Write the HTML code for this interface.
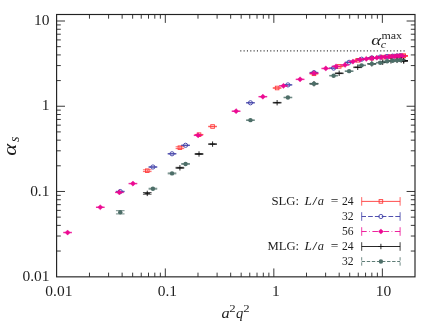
<!DOCTYPE html>
<html><head><meta charset="utf-8"><title>alpha_s</title>
<style>
html,body{margin:0;padding:0;background:#fff;}
svg{display:block;will-change:transform;font-family:"Liberation Serif";}
</style></head><body>
<svg width="432" height="323" viewBox="0 0 432 323">
<rect width="432" height="323" fill="#fff"/>
<rect x="56.6" y="14.5" width="358.4" height="262.35" fill="none" stroke="#222" stroke-width="1.15"/>
<line x1="89.47" y1="276.85" x2="89.47" y2="272.65" stroke="#222" stroke-width="0.9"/>
<line x1="89.47" y1="14.50" x2="89.47" y2="18.70" stroke="#222" stroke-width="0.9"/>
<line x1="56.60" y1="251.04" x2="60.80" y2="251.04" stroke="#222" stroke-width="0.9"/>
<line x1="415.00" y1="251.04" x2="410.80" y2="251.04" stroke="#222" stroke-width="0.9"/>
<line x1="108.58" y1="276.85" x2="108.58" y2="272.65" stroke="#222" stroke-width="0.9"/>
<line x1="108.58" y1="14.50" x2="108.58" y2="18.70" stroke="#222" stroke-width="0.9"/>
<line x1="56.60" y1="236.03" x2="60.80" y2="236.03" stroke="#222" stroke-width="0.9"/>
<line x1="415.00" y1="236.03" x2="410.80" y2="236.03" stroke="#222" stroke-width="0.9"/>
<line x1="122.14" y1="276.85" x2="122.14" y2="272.65" stroke="#222" stroke-width="0.9"/>
<line x1="122.14" y1="14.50" x2="122.14" y2="18.70" stroke="#222" stroke-width="0.9"/>
<line x1="56.60" y1="225.39" x2="60.80" y2="225.39" stroke="#222" stroke-width="0.9"/>
<line x1="415.00" y1="225.39" x2="410.80" y2="225.39" stroke="#222" stroke-width="0.9"/>
<line x1="132.65" y1="276.85" x2="132.65" y2="272.65" stroke="#222" stroke-width="0.9"/>
<line x1="132.65" y1="14.50" x2="132.65" y2="18.70" stroke="#222" stroke-width="0.9"/>
<line x1="56.60" y1="217.13" x2="60.80" y2="217.13" stroke="#222" stroke-width="0.9"/>
<line x1="415.00" y1="217.13" x2="410.80" y2="217.13" stroke="#222" stroke-width="0.9"/>
<line x1="141.24" y1="276.85" x2="141.24" y2="272.65" stroke="#222" stroke-width="0.9"/>
<line x1="141.24" y1="14.50" x2="141.24" y2="18.70" stroke="#222" stroke-width="0.9"/>
<line x1="56.60" y1="210.38" x2="60.80" y2="210.38" stroke="#222" stroke-width="0.9"/>
<line x1="415.00" y1="210.38" x2="410.80" y2="210.38" stroke="#222" stroke-width="0.9"/>
<line x1="148.51" y1="276.85" x2="148.51" y2="272.65" stroke="#222" stroke-width="0.9"/>
<line x1="148.51" y1="14.50" x2="148.51" y2="18.70" stroke="#222" stroke-width="0.9"/>
<line x1="56.60" y1="204.67" x2="60.80" y2="204.67" stroke="#222" stroke-width="0.9"/>
<line x1="415.00" y1="204.67" x2="410.80" y2="204.67" stroke="#222" stroke-width="0.9"/>
<line x1="154.80" y1="276.85" x2="154.80" y2="272.65" stroke="#222" stroke-width="0.9"/>
<line x1="154.80" y1="14.50" x2="154.80" y2="18.70" stroke="#222" stroke-width="0.9"/>
<line x1="56.60" y1="199.73" x2="60.80" y2="199.73" stroke="#222" stroke-width="0.9"/>
<line x1="415.00" y1="199.73" x2="410.80" y2="199.73" stroke="#222" stroke-width="0.9"/>
<line x1="160.35" y1="276.85" x2="160.35" y2="272.65" stroke="#222" stroke-width="0.9"/>
<line x1="160.35" y1="14.50" x2="160.35" y2="18.70" stroke="#222" stroke-width="0.9"/>
<line x1="56.60" y1="195.37" x2="60.80" y2="195.37" stroke="#222" stroke-width="0.9"/>
<line x1="415.00" y1="195.37" x2="410.80" y2="195.37" stroke="#222" stroke-width="0.9"/>
<line x1="165.32" y1="276.85" x2="165.32" y2="268.45" stroke="#222" stroke-width="0.9"/>
<line x1="165.32" y1="14.50" x2="165.32" y2="22.90" stroke="#222" stroke-width="0.9"/>
<line x1="56.60" y1="191.47" x2="65.00" y2="191.47" stroke="#222" stroke-width="0.9"/>
<line x1="415.00" y1="191.47" x2="406.60" y2="191.47" stroke="#222" stroke-width="0.9"/>
<line x1="197.99" y1="276.85" x2="197.99" y2="272.65" stroke="#222" stroke-width="0.9"/>
<line x1="197.99" y1="14.50" x2="197.99" y2="18.70" stroke="#222" stroke-width="0.9"/>
<line x1="56.60" y1="165.81" x2="60.80" y2="165.81" stroke="#222" stroke-width="0.9"/>
<line x1="415.00" y1="165.81" x2="410.80" y2="165.81" stroke="#222" stroke-width="0.9"/>
<line x1="217.10" y1="276.85" x2="217.10" y2="272.65" stroke="#222" stroke-width="0.9"/>
<line x1="217.10" y1="14.50" x2="217.10" y2="18.70" stroke="#222" stroke-width="0.9"/>
<line x1="56.60" y1="150.80" x2="60.80" y2="150.80" stroke="#222" stroke-width="0.9"/>
<line x1="415.00" y1="150.80" x2="410.80" y2="150.80" stroke="#222" stroke-width="0.9"/>
<line x1="230.66" y1="276.85" x2="230.66" y2="272.65" stroke="#222" stroke-width="0.9"/>
<line x1="230.66" y1="14.50" x2="230.66" y2="18.70" stroke="#222" stroke-width="0.9"/>
<line x1="56.60" y1="140.16" x2="60.80" y2="140.16" stroke="#222" stroke-width="0.9"/>
<line x1="415.00" y1="140.16" x2="410.80" y2="140.16" stroke="#222" stroke-width="0.9"/>
<line x1="241.17" y1="276.85" x2="241.17" y2="272.65" stroke="#222" stroke-width="0.9"/>
<line x1="241.17" y1="14.50" x2="241.17" y2="18.70" stroke="#222" stroke-width="0.9"/>
<line x1="56.60" y1="131.90" x2="60.80" y2="131.90" stroke="#222" stroke-width="0.9"/>
<line x1="415.00" y1="131.90" x2="410.80" y2="131.90" stroke="#222" stroke-width="0.9"/>
<line x1="249.76" y1="276.85" x2="249.76" y2="272.65" stroke="#222" stroke-width="0.9"/>
<line x1="249.76" y1="14.50" x2="249.76" y2="18.70" stroke="#222" stroke-width="0.9"/>
<line x1="56.60" y1="125.15" x2="60.80" y2="125.15" stroke="#222" stroke-width="0.9"/>
<line x1="415.00" y1="125.15" x2="410.80" y2="125.15" stroke="#222" stroke-width="0.9"/>
<line x1="257.03" y1="276.85" x2="257.03" y2="272.65" stroke="#222" stroke-width="0.9"/>
<line x1="257.03" y1="14.50" x2="257.03" y2="18.70" stroke="#222" stroke-width="0.9"/>
<line x1="56.60" y1="119.44" x2="60.80" y2="119.44" stroke="#222" stroke-width="0.9"/>
<line x1="415.00" y1="119.44" x2="410.80" y2="119.44" stroke="#222" stroke-width="0.9"/>
<line x1="263.32" y1="276.85" x2="263.32" y2="272.65" stroke="#222" stroke-width="0.9"/>
<line x1="263.32" y1="14.50" x2="263.32" y2="18.70" stroke="#222" stroke-width="0.9"/>
<line x1="56.60" y1="114.50" x2="60.80" y2="114.50" stroke="#222" stroke-width="0.9"/>
<line x1="415.00" y1="114.50" x2="410.80" y2="114.50" stroke="#222" stroke-width="0.9"/>
<line x1="268.87" y1="276.85" x2="268.87" y2="272.65" stroke="#222" stroke-width="0.9"/>
<line x1="268.87" y1="14.50" x2="268.87" y2="18.70" stroke="#222" stroke-width="0.9"/>
<line x1="56.60" y1="110.14" x2="60.80" y2="110.14" stroke="#222" stroke-width="0.9"/>
<line x1="415.00" y1="110.14" x2="410.80" y2="110.14" stroke="#222" stroke-width="0.9"/>
<line x1="273.84" y1="276.85" x2="273.84" y2="268.45" stroke="#222" stroke-width="0.9"/>
<line x1="273.84" y1="14.50" x2="273.84" y2="22.90" stroke="#222" stroke-width="0.9"/>
<line x1="56.60" y1="106.24" x2="65.00" y2="106.24" stroke="#222" stroke-width="0.9"/>
<line x1="415.00" y1="106.24" x2="406.60" y2="106.24" stroke="#222" stroke-width="0.9"/>
<line x1="306.51" y1="276.85" x2="306.51" y2="272.65" stroke="#222" stroke-width="0.9"/>
<line x1="306.51" y1="14.50" x2="306.51" y2="18.70" stroke="#222" stroke-width="0.9"/>
<line x1="56.60" y1="80.58" x2="60.80" y2="80.58" stroke="#222" stroke-width="0.9"/>
<line x1="415.00" y1="80.58" x2="410.80" y2="80.58" stroke="#222" stroke-width="0.9"/>
<line x1="325.62" y1="276.85" x2="325.62" y2="272.65" stroke="#222" stroke-width="0.9"/>
<line x1="325.62" y1="14.50" x2="325.62" y2="18.70" stroke="#222" stroke-width="0.9"/>
<line x1="56.60" y1="65.57" x2="60.80" y2="65.57" stroke="#222" stroke-width="0.9"/>
<line x1="415.00" y1="65.57" x2="410.80" y2="65.57" stroke="#222" stroke-width="0.9"/>
<line x1="339.18" y1="276.85" x2="339.18" y2="272.65" stroke="#222" stroke-width="0.9"/>
<line x1="339.18" y1="14.50" x2="339.18" y2="18.70" stroke="#222" stroke-width="0.9"/>
<line x1="56.60" y1="54.93" x2="60.80" y2="54.93" stroke="#222" stroke-width="0.9"/>
<line x1="415.00" y1="54.93" x2="410.80" y2="54.93" stroke="#222" stroke-width="0.9"/>
<line x1="349.69" y1="276.85" x2="349.69" y2="272.65" stroke="#222" stroke-width="0.9"/>
<line x1="349.69" y1="14.50" x2="349.69" y2="18.70" stroke="#222" stroke-width="0.9"/>
<line x1="56.60" y1="46.67" x2="60.80" y2="46.67" stroke="#222" stroke-width="0.9"/>
<line x1="415.00" y1="46.67" x2="410.80" y2="46.67" stroke="#222" stroke-width="0.9"/>
<line x1="358.28" y1="276.85" x2="358.28" y2="272.65" stroke="#222" stroke-width="0.9"/>
<line x1="358.28" y1="14.50" x2="358.28" y2="18.70" stroke="#222" stroke-width="0.9"/>
<line x1="56.60" y1="39.92" x2="60.80" y2="39.92" stroke="#222" stroke-width="0.9"/>
<line x1="415.00" y1="39.92" x2="410.80" y2="39.92" stroke="#222" stroke-width="0.9"/>
<line x1="365.55" y1="276.85" x2="365.55" y2="272.65" stroke="#222" stroke-width="0.9"/>
<line x1="365.55" y1="14.50" x2="365.55" y2="18.70" stroke="#222" stroke-width="0.9"/>
<line x1="56.60" y1="34.21" x2="60.80" y2="34.21" stroke="#222" stroke-width="0.9"/>
<line x1="415.00" y1="34.21" x2="410.80" y2="34.21" stroke="#222" stroke-width="0.9"/>
<line x1="371.84" y1="276.85" x2="371.84" y2="272.65" stroke="#222" stroke-width="0.9"/>
<line x1="371.84" y1="14.50" x2="371.84" y2="18.70" stroke="#222" stroke-width="0.9"/>
<line x1="56.60" y1="29.27" x2="60.80" y2="29.27" stroke="#222" stroke-width="0.9"/>
<line x1="415.00" y1="29.27" x2="410.80" y2="29.27" stroke="#222" stroke-width="0.9"/>
<line x1="377.39" y1="276.85" x2="377.39" y2="272.65" stroke="#222" stroke-width="0.9"/>
<line x1="377.39" y1="14.50" x2="377.39" y2="18.70" stroke="#222" stroke-width="0.9"/>
<line x1="56.60" y1="24.91" x2="60.80" y2="24.91" stroke="#222" stroke-width="0.9"/>
<line x1="415.00" y1="24.91" x2="410.80" y2="24.91" stroke="#222" stroke-width="0.9"/>
<line x1="382.36" y1="276.85" x2="382.36" y2="268.45" stroke="#222" stroke-width="0.9"/>
<line x1="382.36" y1="14.50" x2="382.36" y2="22.90" stroke="#222" stroke-width="0.9"/>
<line x1="56.60" y1="21.01" x2="65.00" y2="21.01" stroke="#222" stroke-width="0.9"/>
<line x1="415.00" y1="21.01" x2="406.60" y2="21.01" stroke="#222" stroke-width="0.9"/>
<line x1="240.25" y1="50.9" x2="404.7" y2="50.9" stroke="#3a3a3a" stroke-width="1.3" stroke-dasharray="1.1 2.232"/>
<line x1="147.25" y1="169.80" x2="147.25" y2="171.60" stroke="#ff3b3b" stroke-width="0.9"/>
<line x1="142.95" y1="169.80" x2="151.55" y2="169.80" stroke="#ff3b3b" stroke-width="0.8"/>
<line x1="142.95" y1="171.60" x2="151.55" y2="171.60" stroke="#ff3b3b" stroke-width="0.8"/>
<rect x="145.45" y="168.90" width="3.6" height="3.6" fill="none" stroke="#ff3b3b" stroke-width="0.9"/>
<line x1="179.91" y1="146.80" x2="179.91" y2="148.60" stroke="#ff3b3b" stroke-width="0.9"/>
<line x1="175.61" y1="146.80" x2="184.21" y2="146.80" stroke="#ff3b3b" stroke-width="0.8"/>
<line x1="175.61" y1="148.60" x2="184.21" y2="148.60" stroke="#ff3b3b" stroke-width="0.8"/>
<rect x="178.11" y="145.90" width="3.6" height="3.6" fill="none" stroke="#ff3b3b" stroke-width="0.9"/>
<line x1="199.02" y1="134.43" x2="199.02" y2="134.93" stroke="#ff3b3b" stroke-width="0.9"/>
<line x1="194.72" y1="134.43" x2="203.32" y2="134.43" stroke="#ff3b3b" stroke-width="0.8"/>
<line x1="194.72" y1="134.93" x2="203.32" y2="134.93" stroke="#ff3b3b" stroke-width="0.8"/>
<rect x="197.22" y="132.88" width="3.6" height="3.6" fill="none" stroke="#ff3b3b" stroke-width="0.9"/>
<line x1="212.58" y1="126.25" x2="212.58" y2="126.75" stroke="#ff3b3b" stroke-width="0.9"/>
<line x1="208.28" y1="126.25" x2="216.88" y2="126.25" stroke="#ff3b3b" stroke-width="0.8"/>
<line x1="208.28" y1="126.75" x2="216.88" y2="126.75" stroke="#ff3b3b" stroke-width="0.8"/>
<rect x="210.78" y="124.70" width="3.6" height="3.6" fill="none" stroke="#ff3b3b" stroke-width="0.9"/>
<line x1="277.11" y1="87.75" x2="277.11" y2="88.25" stroke="#ff3b3b" stroke-width="0.9"/>
<line x1="272.81" y1="87.75" x2="281.41" y2="87.75" stroke="#ff3b3b" stroke-width="0.8"/>
<line x1="272.81" y1="88.25" x2="281.41" y2="88.25" stroke="#ff3b3b" stroke-width="0.8"/>
<rect x="275.31" y="86.20" width="3.6" height="3.6" fill="none" stroke="#ff3b3b" stroke-width="0.9"/>
<line x1="313.97" y1="73.55" x2="313.97" y2="74.05" stroke="#ff3b3b" stroke-width="0.9"/>
<line x1="309.67" y1="73.55" x2="318.27" y2="73.55" stroke="#ff3b3b" stroke-width="0.8"/>
<line x1="309.67" y1="74.05" x2="318.27" y2="74.05" stroke="#ff3b3b" stroke-width="0.8"/>
<rect x="312.17" y="72.00" width="3.6" height="3.6" fill="none" stroke="#ff3b3b" stroke-width="0.9"/>
<line x1="339.18" y1="66.15" x2="339.18" y2="66.65" stroke="#ff3b3b" stroke-width="0.9"/>
<line x1="334.88" y1="66.15" x2="343.48" y2="66.15" stroke="#ff3b3b" stroke-width="0.8"/>
<line x1="334.88" y1="66.65" x2="343.48" y2="66.65" stroke="#ff3b3b" stroke-width="0.8"/>
<rect x="337.38" y="64.60" width="3.6" height="3.6" fill="none" stroke="#ff3b3b" stroke-width="0.9"/>
<line x1="357.73" y1="60.05" x2="357.73" y2="60.55" stroke="#ff3b3b" stroke-width="0.9"/>
<line x1="353.43" y1="60.05" x2="362.03" y2="60.05" stroke="#ff3b3b" stroke-width="0.8"/>
<line x1="353.43" y1="60.55" x2="362.03" y2="60.55" stroke="#ff3b3b" stroke-width="0.8"/>
<rect x="355.93" y="58.50" width="3.6" height="3.6" fill="none" stroke="#ff3b3b" stroke-width="0.9"/>
<line x1="371.84" y1="57.97" x2="371.84" y2="58.47" stroke="#ff3b3b" stroke-width="0.9"/>
<line x1="367.54" y1="57.97" x2="376.14" y2="57.97" stroke="#ff3b3b" stroke-width="0.8"/>
<line x1="367.54" y1="58.47" x2="376.14" y2="58.47" stroke="#ff3b3b" stroke-width="0.8"/>
<rect x="370.04" y="56.42" width="3.6" height="3.6" fill="none" stroke="#ff3b3b" stroke-width="0.9"/>
<line x1="382.69" y1="56.88" x2="382.69" y2="57.38" stroke="#ff3b3b" stroke-width="0.9"/>
<line x1="378.39" y1="56.88" x2="386.99" y2="56.88" stroke="#ff3b3b" stroke-width="0.8"/>
<line x1="378.39" y1="57.38" x2="386.99" y2="57.38" stroke="#ff3b3b" stroke-width="0.8"/>
<rect x="380.89" y="55.33" width="3.6" height="3.6" fill="none" stroke="#ff3b3b" stroke-width="0.9"/>
<line x1="390.95" y1="56.31" x2="390.95" y2="56.81" stroke="#ff3b3b" stroke-width="0.9"/>
<line x1="386.65" y1="56.31" x2="395.25" y2="56.31" stroke="#ff3b3b" stroke-width="0.8"/>
<line x1="386.65" y1="56.81" x2="395.25" y2="56.81" stroke="#ff3b3b" stroke-width="0.8"/>
<rect x="389.15" y="54.76" width="3.6" height="3.6" fill="none" stroke="#ff3b3b" stroke-width="0.9"/>
<line x1="397.05" y1="55.95" x2="397.05" y2="56.45" stroke="#ff3b3b" stroke-width="0.9"/>
<line x1="392.75" y1="55.95" x2="401.35" y2="55.95" stroke="#ff3b3b" stroke-width="0.8"/>
<line x1="392.75" y1="56.45" x2="401.35" y2="56.45" stroke="#ff3b3b" stroke-width="0.8"/>
<rect x="395.25" y="54.40" width="3.6" height="3.6" fill="none" stroke="#ff3b3b" stroke-width="0.9"/>
<line x1="401.24" y1="55.74" x2="401.24" y2="56.24" stroke="#ff3b3b" stroke-width="0.9"/>
<line x1="396.94" y1="55.74" x2="405.54" y2="55.74" stroke="#ff3b3b" stroke-width="0.8"/>
<line x1="396.94" y1="56.24" x2="405.54" y2="56.24" stroke="#ff3b3b" stroke-width="0.8"/>
<rect x="399.44" y="54.19" width="3.6" height="3.6" fill="none" stroke="#ff3b3b" stroke-width="0.9"/>
<line x1="403.70" y1="55.61" x2="403.70" y2="56.11" stroke="#ff3b3b" stroke-width="0.9"/>
<line x1="399.40" y1="55.61" x2="408.00" y2="55.61" stroke="#ff3b3b" stroke-width="0.8"/>
<line x1="399.40" y1="56.11" x2="408.00" y2="56.11" stroke="#ff3b3b" stroke-width="0.8"/>
<rect x="401.90" y="54.06" width="3.6" height="3.6" fill="none" stroke="#ff3b3b" stroke-width="0.9"/>
<line x1="403.70" y1="55.61" x2="403.70" y2="56.11" stroke="#ff3b3b" stroke-width="0.9"/>
<line x1="399.40" y1="55.61" x2="408.00" y2="55.61" stroke="#ff3b3b" stroke-width="0.8"/>
<line x1="399.40" y1="56.11" x2="408.00" y2="56.11" stroke="#ff3b3b" stroke-width="0.8"/>
<rect x="401.90" y="54.06" width="3.6" height="3.6" fill="none" stroke="#ff3b3b" stroke-width="0.9"/>
<line x1="120.25" y1="191.27" x2="120.25" y2="191.77" stroke="#3d3da6" stroke-width="0.9"/>
<line x1="115.95" y1="191.27" x2="124.55" y2="191.27" stroke="#3d3da6" stroke-width="0.8"/>
<line x1="115.95" y1="191.77" x2="124.55" y2="191.77" stroke="#3d3da6" stroke-width="0.8"/>
<circle cx="120.25" cy="191.52" r="2.1" fill="none" stroke="#3d3da6" stroke-width="0.9"/>
<line x1="152.92" y1="166.75" x2="152.92" y2="167.25" stroke="#3d3da6" stroke-width="0.9"/>
<line x1="148.62" y1="166.75" x2="157.22" y2="166.75" stroke="#3d3da6" stroke-width="0.8"/>
<line x1="148.62" y1="167.25" x2="157.22" y2="167.25" stroke="#3d3da6" stroke-width="0.8"/>
<circle cx="152.92" cy="167.00" r="2.1" fill="none" stroke="#3d3da6" stroke-width="0.9"/>
<line x1="172.02" y1="153.55" x2="172.02" y2="154.05" stroke="#3d3da6" stroke-width="0.9"/>
<line x1="167.72" y1="153.55" x2="176.32" y2="153.55" stroke="#3d3da6" stroke-width="0.8"/>
<line x1="167.72" y1="154.05" x2="176.32" y2="154.05" stroke="#3d3da6" stroke-width="0.8"/>
<circle cx="172.02" cy="153.80" r="2.1" fill="none" stroke="#3d3da6" stroke-width="0.9"/>
<line x1="185.58" y1="145.05" x2="185.58" y2="145.55" stroke="#3d3da6" stroke-width="0.9"/>
<line x1="181.28" y1="145.05" x2="189.88" y2="145.05" stroke="#3d3da6" stroke-width="0.8"/>
<line x1="181.28" y1="145.55" x2="189.88" y2="145.55" stroke="#3d3da6" stroke-width="0.8"/>
<circle cx="185.58" cy="145.30" r="2.1" fill="none" stroke="#3d3da6" stroke-width="0.9"/>
<line x1="250.46" y1="102.55" x2="250.46" y2="103.05" stroke="#3d3da6" stroke-width="0.9"/>
<line x1="246.16" y1="102.55" x2="254.76" y2="102.55" stroke="#3d3da6" stroke-width="0.8"/>
<line x1="246.16" y1="103.05" x2="254.76" y2="103.05" stroke="#3d3da6" stroke-width="0.8"/>
<circle cx="250.46" cy="102.80" r="2.1" fill="none" stroke="#3d3da6" stroke-width="0.9"/>
<line x1="287.92" y1="84.65" x2="287.92" y2="85.15" stroke="#3d3da6" stroke-width="0.9"/>
<line x1="283.62" y1="84.65" x2="292.22" y2="84.65" stroke="#3d3da6" stroke-width="0.8"/>
<line x1="283.62" y1="85.15" x2="292.22" y2="85.15" stroke="#3d3da6" stroke-width="0.8"/>
<circle cx="287.92" cy="84.90" r="2.1" fill="none" stroke="#3d3da6" stroke-width="0.9"/>
<line x1="313.97" y1="72.35" x2="313.97" y2="72.85" stroke="#3d3da6" stroke-width="0.9"/>
<line x1="309.67" y1="72.35" x2="318.27" y2="72.35" stroke="#3d3da6" stroke-width="0.8"/>
<line x1="309.67" y1="72.85" x2="318.27" y2="72.85" stroke="#3d3da6" stroke-width="0.8"/>
<circle cx="313.97" cy="72.60" r="2.1" fill="none" stroke="#3d3da6" stroke-width="0.9"/>
<line x1="333.62" y1="67.85" x2="333.62" y2="68.35" stroke="#3d3da6" stroke-width="0.9"/>
<line x1="329.32" y1="67.85" x2="337.92" y2="67.85" stroke="#3d3da6" stroke-width="0.8"/>
<line x1="329.32" y1="68.35" x2="337.92" y2="68.35" stroke="#3d3da6" stroke-width="0.8"/>
<circle cx="333.62" cy="68.10" r="2.1" fill="none" stroke="#3d3da6" stroke-width="0.9"/>
<line x1="349.11" y1="62.05" x2="349.11" y2="62.55" stroke="#3d3da6" stroke-width="0.9"/>
<line x1="344.81" y1="62.05" x2="353.41" y2="62.05" stroke="#3d3da6" stroke-width="0.8"/>
<line x1="344.81" y1="62.55" x2="353.41" y2="62.55" stroke="#3d3da6" stroke-width="0.8"/>
<circle cx="349.11" cy="62.30" r="2.1" fill="none" stroke="#3d3da6" stroke-width="0.9"/>
<line x1="361.62" y1="58.95" x2="361.62" y2="59.45" stroke="#3d3da6" stroke-width="0.9"/>
<line x1="357.32" y1="58.95" x2="365.92" y2="58.95" stroke="#3d3da6" stroke-width="0.8"/>
<line x1="357.32" y1="59.45" x2="365.92" y2="59.45" stroke="#3d3da6" stroke-width="0.8"/>
<circle cx="361.62" cy="59.20" r="2.1" fill="none" stroke="#3d3da6" stroke-width="0.9"/>
<line x1="371.84" y1="57.67" x2="371.84" y2="58.17" stroke="#3d3da6" stroke-width="0.9"/>
<line x1="367.54" y1="57.67" x2="376.14" y2="57.67" stroke="#3d3da6" stroke-width="0.8"/>
<line x1="367.54" y1="58.17" x2="376.14" y2="58.17" stroke="#3d3da6" stroke-width="0.8"/>
<circle cx="371.84" cy="57.92" r="2.1" fill="none" stroke="#3d3da6" stroke-width="0.9"/>
<line x1="380.24" y1="56.83" x2="380.24" y2="57.33" stroke="#3d3da6" stroke-width="0.9"/>
<line x1="375.94" y1="56.83" x2="384.54" y2="56.83" stroke="#3d3da6" stroke-width="0.8"/>
<line x1="375.94" y1="57.33" x2="384.54" y2="57.33" stroke="#3d3da6" stroke-width="0.8"/>
<circle cx="380.24" cy="57.08" r="2.1" fill="none" stroke="#3d3da6" stroke-width="0.9"/>
<line x1="387.11" y1="56.25" x2="387.11" y2="56.75" stroke="#3d3da6" stroke-width="0.9"/>
<line x1="382.81" y1="56.25" x2="391.41" y2="56.25" stroke="#3d3da6" stroke-width="0.8"/>
<line x1="382.81" y1="56.75" x2="391.41" y2="56.75" stroke="#3d3da6" stroke-width="0.8"/>
<circle cx="387.11" cy="56.50" r="2.1" fill="none" stroke="#3d3da6" stroke-width="0.9"/>
<line x1="392.67" y1="55.90" x2="392.67" y2="56.40" stroke="#3d3da6" stroke-width="0.9"/>
<line x1="388.37" y1="55.90" x2="396.97" y2="55.90" stroke="#3d3da6" stroke-width="0.8"/>
<line x1="388.37" y1="56.40" x2="396.97" y2="56.40" stroke="#3d3da6" stroke-width="0.8"/>
<circle cx="392.67" cy="56.15" r="2.1" fill="none" stroke="#3d3da6" stroke-width="0.9"/>
<line x1="397.05" y1="55.65" x2="397.05" y2="56.15" stroke="#3d3da6" stroke-width="0.9"/>
<line x1="392.75" y1="55.65" x2="401.35" y2="55.65" stroke="#3d3da6" stroke-width="0.8"/>
<line x1="392.75" y1="56.15" x2="401.35" y2="56.15" stroke="#3d3da6" stroke-width="0.8"/>
<circle cx="397.05" cy="55.90" r="2.1" fill="none" stroke="#3d3da6" stroke-width="0.9"/>
<line x1="400.36" y1="55.48" x2="400.36" y2="55.98" stroke="#3d3da6" stroke-width="0.9"/>
<line x1="396.06" y1="55.48" x2="404.66" y2="55.48" stroke="#3d3da6" stroke-width="0.8"/>
<line x1="396.06" y1="55.98" x2="404.66" y2="55.98" stroke="#3d3da6" stroke-width="0.8"/>
<circle cx="400.36" cy="55.73" r="2.1" fill="none" stroke="#3d3da6" stroke-width="0.9"/>
<line x1="67.60" y1="232.29" x2="67.60" y2="232.79" stroke="#ec0a92" stroke-width="0.9"/>
<line x1="63.30" y1="232.29" x2="71.90" y2="232.29" stroke="#ec0a92" stroke-width="0.8"/>
<line x1="63.30" y1="232.79" x2="71.90" y2="232.79" stroke="#ec0a92" stroke-width="0.8"/>
<path d="M67.60 229.94L70.20 232.54L67.60 235.14L65.00 232.54Z" fill="#ec0a92" stroke="#ec0a92" stroke-width="0.4"/>
<line x1="100.27" y1="207.02" x2="100.27" y2="207.52" stroke="#ec0a92" stroke-width="0.9"/>
<line x1="95.97" y1="207.02" x2="104.57" y2="207.02" stroke="#ec0a92" stroke-width="0.8"/>
<line x1="95.97" y1="207.52" x2="104.57" y2="207.52" stroke="#ec0a92" stroke-width="0.8"/>
<path d="M100.27 204.67L102.87 207.27L100.27 209.87L97.67 207.27Z" fill="#ec0a92" stroke="#ec0a92" stroke-width="0.4"/>
<line x1="119.38" y1="192.14" x2="119.38" y2="192.64" stroke="#ec0a92" stroke-width="0.9"/>
<line x1="115.08" y1="192.14" x2="123.68" y2="192.14" stroke="#ec0a92" stroke-width="0.8"/>
<line x1="115.08" y1="192.64" x2="123.68" y2="192.64" stroke="#ec0a92" stroke-width="0.8"/>
<path d="M119.38 189.79L121.98 192.39L119.38 194.99L116.78 192.39Z" fill="#ec0a92" stroke="#ec0a92" stroke-width="0.4"/>
<line x1="132.94" y1="183.33" x2="132.94" y2="183.83" stroke="#ec0a92" stroke-width="0.9"/>
<line x1="128.64" y1="183.33" x2="137.24" y2="183.33" stroke="#ec0a92" stroke-width="0.8"/>
<line x1="128.64" y1="183.83" x2="137.24" y2="183.83" stroke="#ec0a92" stroke-width="0.8"/>
<path d="M132.94 180.98L135.54 183.58L132.94 186.18L130.34 183.58Z" fill="#ec0a92" stroke="#ec0a92" stroke-width="0.4"/>
<line x1="198.12" y1="135.05" x2="198.12" y2="135.55" stroke="#ec0a92" stroke-width="0.9"/>
<line x1="193.82" y1="135.05" x2="202.42" y2="135.05" stroke="#ec0a92" stroke-width="0.8"/>
<line x1="193.82" y1="135.55" x2="202.42" y2="135.55" stroke="#ec0a92" stroke-width="0.8"/>
<path d="M198.12 132.70L200.72 135.30L198.12 137.90L195.52 135.30Z" fill="#ec0a92" stroke="#ec0a92" stroke-width="0.4"/>
<line x1="236.09" y1="110.95" x2="236.09" y2="111.45" stroke="#ec0a92" stroke-width="0.9"/>
<line x1="231.79" y1="110.95" x2="240.39" y2="110.95" stroke="#ec0a92" stroke-width="0.8"/>
<line x1="231.79" y1="111.45" x2="240.39" y2="111.45" stroke="#ec0a92" stroke-width="0.8"/>
<path d="M236.09 108.60L238.69 111.20L236.09 113.80L233.49 111.20Z" fill="#ec0a92" stroke="#ec0a92" stroke-width="0.4"/>
<line x1="262.86" y1="96.45" x2="262.86" y2="96.95" stroke="#ec0a92" stroke-width="0.9"/>
<line x1="258.56" y1="96.45" x2="267.16" y2="96.45" stroke="#ec0a92" stroke-width="0.8"/>
<line x1="258.56" y1="96.95" x2="267.16" y2="96.95" stroke="#ec0a92" stroke-width="0.8"/>
<path d="M262.86 94.10L265.46 96.70L262.86 99.30L260.26 96.70Z" fill="#ec0a92" stroke="#ec0a92" stroke-width="0.4"/>
<line x1="283.45" y1="85.62" x2="283.45" y2="86.12" stroke="#ec0a92" stroke-width="0.9"/>
<line x1="279.15" y1="85.62" x2="287.75" y2="85.62" stroke="#ec0a92" stroke-width="0.8"/>
<line x1="279.15" y1="86.12" x2="287.75" y2="86.12" stroke="#ec0a92" stroke-width="0.8"/>
<path d="M283.45 83.27L286.05 85.87L283.45 88.47L280.85 85.87Z" fill="#ec0a92" stroke="#ec0a92" stroke-width="0.4"/>
<line x1="300.09" y1="79.11" x2="300.09" y2="79.61" stroke="#ec0a92" stroke-width="0.9"/>
<line x1="295.79" y1="79.11" x2="304.39" y2="79.11" stroke="#ec0a92" stroke-width="0.8"/>
<line x1="295.79" y1="79.61" x2="304.39" y2="79.61" stroke="#ec0a92" stroke-width="0.8"/>
<path d="M300.09 76.76L302.69 79.36L300.09 81.96L297.49 79.36Z" fill="#ec0a92" stroke="#ec0a92" stroke-width="0.4"/>
<line x1="313.97" y1="72.98" x2="313.97" y2="73.48" stroke="#ec0a92" stroke-width="0.9"/>
<line x1="309.67" y1="72.98" x2="318.27" y2="72.98" stroke="#ec0a92" stroke-width="0.8"/>
<line x1="309.67" y1="73.48" x2="318.27" y2="73.48" stroke="#ec0a92" stroke-width="0.8"/>
<path d="M313.97 70.63L316.57 73.23L313.97 75.83L311.37 73.23Z" fill="#ec0a92" stroke="#ec0a92" stroke-width="0.4"/>
<line x1="325.81" y1="68.21" x2="325.81" y2="68.71" stroke="#ec0a92" stroke-width="0.9"/>
<line x1="321.51" y1="68.21" x2="330.11" y2="68.21" stroke="#ec0a92" stroke-width="0.8"/>
<line x1="321.51" y1="68.71" x2="330.11" y2="68.71" stroke="#ec0a92" stroke-width="0.8"/>
<path d="M325.81 65.86L328.41 68.46L325.81 71.06L323.21 68.46Z" fill="#ec0a92" stroke="#ec0a92" stroke-width="0.4"/>
<line x1="336.06" y1="66.16" x2="336.06" y2="66.66" stroke="#ec0a92" stroke-width="0.9"/>
<line x1="331.76" y1="66.16" x2="340.36" y2="66.16" stroke="#ec0a92" stroke-width="0.8"/>
<line x1="331.76" y1="66.66" x2="340.36" y2="66.66" stroke="#ec0a92" stroke-width="0.8"/>
<path d="M336.06 63.81L338.66 66.41L336.06 69.01L333.46 66.41Z" fill="#ec0a92" stroke="#ec0a92" stroke-width="0.4"/>
<line x1="345.03" y1="64.69" x2="345.03" y2="65.19" stroke="#ec0a92" stroke-width="0.9"/>
<line x1="340.73" y1="64.69" x2="349.33" y2="64.69" stroke="#ec0a92" stroke-width="0.8"/>
<line x1="340.73" y1="65.19" x2="349.33" y2="65.19" stroke="#ec0a92" stroke-width="0.8"/>
<path d="M345.03 62.34L347.63 64.94L345.03 67.54L342.43 64.94Z" fill="#ec0a92" stroke="#ec0a92" stroke-width="0.4"/>
<line x1="352.95" y1="61.31" x2="352.95" y2="61.81" stroke="#ec0a92" stroke-width="0.9"/>
<line x1="348.65" y1="61.31" x2="357.25" y2="61.31" stroke="#ec0a92" stroke-width="0.8"/>
<line x1="348.65" y1="61.81" x2="357.25" y2="61.81" stroke="#ec0a92" stroke-width="0.8"/>
<path d="M352.95 58.96L355.55 61.56L352.95 64.16L350.35 61.56Z" fill="#ec0a92" stroke="#ec0a92" stroke-width="0.4"/>
<line x1="359.98" y1="59.46" x2="359.98" y2="59.96" stroke="#ec0a92" stroke-width="0.9"/>
<line x1="355.68" y1="59.46" x2="364.28" y2="59.46" stroke="#ec0a92" stroke-width="0.8"/>
<line x1="355.68" y1="59.96" x2="364.28" y2="59.96" stroke="#ec0a92" stroke-width="0.8"/>
<path d="M359.98 57.11L362.58 59.71L359.98 62.31L357.38 59.71Z" fill="#ec0a92" stroke="#ec0a92" stroke-width="0.4"/>
<line x1="366.25" y1="58.67" x2="366.25" y2="59.17" stroke="#ec0a92" stroke-width="0.9"/>
<line x1="361.95" y1="58.67" x2="370.55" y2="58.67" stroke="#ec0a92" stroke-width="0.8"/>
<line x1="361.95" y1="59.17" x2="370.55" y2="59.17" stroke="#ec0a92" stroke-width="0.8"/>
<path d="M366.25 56.32L368.85 58.92L366.25 61.52L363.65 58.92Z" fill="#ec0a92" stroke="#ec0a92" stroke-width="0.4"/>
<line x1="371.84" y1="57.97" x2="371.84" y2="58.47" stroke="#ec0a92" stroke-width="0.9"/>
<line x1="367.54" y1="57.97" x2="376.14" y2="57.97" stroke="#ec0a92" stroke-width="0.8"/>
<line x1="367.54" y1="58.47" x2="376.14" y2="58.47" stroke="#ec0a92" stroke-width="0.8"/>
<path d="M371.84 55.62L374.44 58.22L371.84 60.82L369.24 58.22Z" fill="#ec0a92" stroke="#ec0a92" stroke-width="0.4"/>
<line x1="376.85" y1="57.47" x2="376.85" y2="57.97" stroke="#ec0a92" stroke-width="0.9"/>
<line x1="372.55" y1="57.47" x2="381.15" y2="57.47" stroke="#ec0a92" stroke-width="0.8"/>
<line x1="372.55" y1="57.97" x2="381.15" y2="57.97" stroke="#ec0a92" stroke-width="0.8"/>
<path d="M376.85 55.12L379.45 57.72L376.85 60.32L374.25 57.72Z" fill="#ec0a92" stroke="#ec0a92" stroke-width="0.4"/>
<line x1="381.31" y1="57.02" x2="381.31" y2="57.52" stroke="#ec0a92" stroke-width="0.9"/>
<line x1="377.01" y1="57.02" x2="385.61" y2="57.02" stroke="#ec0a92" stroke-width="0.8"/>
<line x1="377.01" y1="57.52" x2="385.61" y2="57.52" stroke="#ec0a92" stroke-width="0.8"/>
<path d="M381.31 54.67L383.91 57.27L381.31 59.87L378.71 57.27Z" fill="#ec0a92" stroke="#ec0a92" stroke-width="0.4"/>
<line x1="385.29" y1="56.67" x2="385.29" y2="57.17" stroke="#ec0a92" stroke-width="0.9"/>
<line x1="380.99" y1="56.67" x2="389.59" y2="56.67" stroke="#ec0a92" stroke-width="0.8"/>
<line x1="380.99" y1="57.17" x2="389.59" y2="57.17" stroke="#ec0a92" stroke-width="0.8"/>
<path d="M385.29 54.32L387.89 56.92L385.29 59.52L382.69 56.92Z" fill="#ec0a92" stroke="#ec0a92" stroke-width="0.4"/>
<line x1="388.83" y1="56.44" x2="388.83" y2="56.94" stroke="#ec0a92" stroke-width="0.9"/>
<line x1="384.53" y1="56.44" x2="393.13" y2="56.44" stroke="#ec0a92" stroke-width="0.8"/>
<line x1="384.53" y1="56.94" x2="393.13" y2="56.94" stroke="#ec0a92" stroke-width="0.8"/>
<path d="M388.83 54.09L391.43 56.69L388.83 59.29L386.23 56.69Z" fill="#ec0a92" stroke="#ec0a92" stroke-width="0.4"/>
<line x1="391.95" y1="56.24" x2="391.95" y2="56.74" stroke="#ec0a92" stroke-width="0.9"/>
<line x1="387.65" y1="56.24" x2="396.25" y2="56.24" stroke="#ec0a92" stroke-width="0.8"/>
<line x1="387.65" y1="56.74" x2="396.25" y2="56.74" stroke="#ec0a92" stroke-width="0.8"/>
<path d="M391.95 53.89L394.55 56.49L391.95 59.09L389.35 56.49Z" fill="#ec0a92" stroke="#ec0a92" stroke-width="0.4"/>
<line x1="394.68" y1="56.07" x2="394.68" y2="56.57" stroke="#ec0a92" stroke-width="0.9"/>
<line x1="390.38" y1="56.07" x2="398.98" y2="56.07" stroke="#ec0a92" stroke-width="0.8"/>
<line x1="390.38" y1="56.57" x2="398.98" y2="56.57" stroke="#ec0a92" stroke-width="0.8"/>
<path d="M394.68 53.72L397.28 56.32L394.68 58.92L392.08 56.32Z" fill="#ec0a92" stroke="#ec0a92" stroke-width="0.4"/>
<line x1="397.05" y1="55.95" x2="397.05" y2="56.45" stroke="#ec0a92" stroke-width="0.9"/>
<line x1="392.75" y1="55.95" x2="401.35" y2="55.95" stroke="#ec0a92" stroke-width="0.8"/>
<line x1="392.75" y1="56.45" x2="401.35" y2="56.45" stroke="#ec0a92" stroke-width="0.8"/>
<path d="M397.05 53.60L399.65 56.20L397.05 58.80L394.45 56.20Z" fill="#ec0a92" stroke="#ec0a92" stroke-width="0.4"/>
<line x1="399.07" y1="55.85" x2="399.07" y2="56.35" stroke="#ec0a92" stroke-width="0.9"/>
<line x1="394.77" y1="55.85" x2="403.37" y2="55.85" stroke="#ec0a92" stroke-width="0.8"/>
<line x1="394.77" y1="56.35" x2="403.37" y2="56.35" stroke="#ec0a92" stroke-width="0.8"/>
<path d="M399.07 53.50L401.67 56.10L399.07 58.70L396.47 56.10Z" fill="#ec0a92" stroke="#ec0a92" stroke-width="0.4"/>
<line x1="400.75" y1="55.76" x2="400.75" y2="56.26" stroke="#ec0a92" stroke-width="0.9"/>
<line x1="396.45" y1="55.76" x2="405.05" y2="55.76" stroke="#ec0a92" stroke-width="0.8"/>
<line x1="396.45" y1="56.26" x2="405.05" y2="56.26" stroke="#ec0a92" stroke-width="0.8"/>
<path d="M400.75 53.41L403.35 56.01L400.75 58.61L398.15 56.01Z" fill="#ec0a92" stroke="#ec0a92" stroke-width="0.4"/>
<line x1="402.12" y1="55.69" x2="402.12" y2="56.19" stroke="#ec0a92" stroke-width="0.9"/>
<line x1="397.82" y1="55.69" x2="406.42" y2="55.69" stroke="#ec0a92" stroke-width="0.8"/>
<line x1="397.82" y1="56.19" x2="406.42" y2="56.19" stroke="#ec0a92" stroke-width="0.8"/>
<path d="M402.12 53.34L404.72 55.94L402.12 58.54L399.52 55.94Z" fill="#ec0a92" stroke="#ec0a92" stroke-width="0.4"/>
<line x1="147.25" y1="192.60" x2="147.25" y2="194.20" stroke="#111" stroke-width="0.9"/>
<line x1="142.95" y1="192.60" x2="151.55" y2="192.60" stroke="#111" stroke-width="0.8"/>
<line x1="142.95" y1="194.20" x2="151.55" y2="194.20" stroke="#111" stroke-width="0.8"/>
<line x1="144.55" y1="193.40" x2="149.95" y2="193.40" stroke="#111" stroke-width="0.9"/>
<line x1="147.25" y1="190.70" x2="147.25" y2="196.10" stroke="#111" stroke-width="0.9"/>
<line x1="179.91" y1="167.35" x2="179.91" y2="168.25" stroke="#111" stroke-width="0.9"/>
<line x1="175.61" y1="167.35" x2="184.21" y2="167.35" stroke="#111" stroke-width="0.8"/>
<line x1="175.61" y1="168.25" x2="184.21" y2="168.25" stroke="#111" stroke-width="0.8"/>
<line x1="177.21" y1="167.80" x2="182.61" y2="167.80" stroke="#111" stroke-width="0.9"/>
<line x1="179.91" y1="165.10" x2="179.91" y2="170.50" stroke="#111" stroke-width="0.9"/>
<line x1="199.02" y1="153.55" x2="199.02" y2="154.45" stroke="#111" stroke-width="0.9"/>
<line x1="194.72" y1="153.55" x2="203.32" y2="153.55" stroke="#111" stroke-width="0.8"/>
<line x1="194.72" y1="154.45" x2="203.32" y2="154.45" stroke="#111" stroke-width="0.8"/>
<line x1="196.32" y1="154.00" x2="201.72" y2="154.00" stroke="#111" stroke-width="0.9"/>
<line x1="199.02" y1="151.30" x2="199.02" y2="156.70" stroke="#111" stroke-width="0.9"/>
<line x1="212.58" y1="143.80" x2="212.58" y2="144.40" stroke="#111" stroke-width="0.9"/>
<line x1="208.28" y1="143.80" x2="216.88" y2="143.80" stroke="#111" stroke-width="0.8"/>
<line x1="208.28" y1="144.40" x2="216.88" y2="144.40" stroke="#111" stroke-width="0.8"/>
<line x1="209.88" y1="144.10" x2="215.28" y2="144.10" stroke="#111" stroke-width="0.9"/>
<line x1="212.58" y1="141.40" x2="212.58" y2="146.80" stroke="#111" stroke-width="0.9"/>
<line x1="277.11" y1="102.40" x2="277.11" y2="103.00" stroke="#111" stroke-width="0.9"/>
<line x1="272.81" y1="102.40" x2="281.41" y2="102.40" stroke="#111" stroke-width="0.8"/>
<line x1="272.81" y1="103.00" x2="281.41" y2="103.00" stroke="#111" stroke-width="0.8"/>
<line x1="274.41" y1="102.70" x2="279.81" y2="102.70" stroke="#111" stroke-width="0.9"/>
<line x1="277.11" y1="100.00" x2="277.11" y2="105.40" stroke="#111" stroke-width="0.9"/>
<line x1="313.97" y1="83.43" x2="313.97" y2="84.03" stroke="#111" stroke-width="0.9"/>
<line x1="309.67" y1="83.43" x2="318.27" y2="83.43" stroke="#111" stroke-width="0.8"/>
<line x1="309.67" y1="84.03" x2="318.27" y2="84.03" stroke="#111" stroke-width="0.8"/>
<line x1="311.27" y1="83.73" x2="316.67" y2="83.73" stroke="#111" stroke-width="0.9"/>
<line x1="313.97" y1="81.03" x2="313.97" y2="86.43" stroke="#111" stroke-width="0.9"/>
<line x1="339.18" y1="73.00" x2="339.18" y2="73.60" stroke="#111" stroke-width="0.9"/>
<line x1="334.88" y1="73.00" x2="343.48" y2="73.00" stroke="#111" stroke-width="0.8"/>
<line x1="334.88" y1="73.60" x2="343.48" y2="73.60" stroke="#111" stroke-width="0.8"/>
<line x1="336.48" y1="73.30" x2="341.88" y2="73.30" stroke="#111" stroke-width="0.9"/>
<line x1="339.18" y1="70.60" x2="339.18" y2="76.00" stroke="#111" stroke-width="0.9"/>
<line x1="357.73" y1="67.00" x2="357.73" y2="67.60" stroke="#111" stroke-width="0.9"/>
<line x1="353.43" y1="67.00" x2="362.03" y2="67.00" stroke="#111" stroke-width="0.8"/>
<line x1="353.43" y1="67.60" x2="362.03" y2="67.60" stroke="#111" stroke-width="0.8"/>
<line x1="355.03" y1="67.30" x2="360.43" y2="67.30" stroke="#111" stroke-width="0.9"/>
<line x1="357.73" y1="64.60" x2="357.73" y2="70.00" stroke="#111" stroke-width="0.9"/>
<line x1="371.84" y1="63.55" x2="371.84" y2="64.15" stroke="#111" stroke-width="0.9"/>
<line x1="367.54" y1="63.55" x2="376.14" y2="63.55" stroke="#111" stroke-width="0.8"/>
<line x1="367.54" y1="64.15" x2="376.14" y2="64.15" stroke="#111" stroke-width="0.8"/>
<line x1="369.14" y1="63.85" x2="374.54" y2="63.85" stroke="#111" stroke-width="0.9"/>
<line x1="371.84" y1="61.15" x2="371.84" y2="66.55" stroke="#111" stroke-width="0.9"/>
<line x1="382.69" y1="61.94" x2="382.69" y2="62.54" stroke="#111" stroke-width="0.9"/>
<line x1="378.39" y1="61.94" x2="386.99" y2="61.94" stroke="#111" stroke-width="0.8"/>
<line x1="378.39" y1="62.54" x2="386.99" y2="62.54" stroke="#111" stroke-width="0.8"/>
<line x1="379.99" y1="62.24" x2="385.39" y2="62.24" stroke="#111" stroke-width="0.9"/>
<line x1="382.69" y1="59.54" x2="382.69" y2="64.94" stroke="#111" stroke-width="0.9"/>
<line x1="390.95" y1="60.61" x2="390.95" y2="61.21" stroke="#111" stroke-width="0.9"/>
<line x1="386.65" y1="60.61" x2="395.25" y2="60.61" stroke="#111" stroke-width="0.8"/>
<line x1="386.65" y1="61.21" x2="395.25" y2="61.21" stroke="#111" stroke-width="0.8"/>
<line x1="388.25" y1="60.91" x2="393.65" y2="60.91" stroke="#111" stroke-width="0.9"/>
<line x1="390.95" y1="58.21" x2="390.95" y2="63.61" stroke="#111" stroke-width="0.9"/>
<line x1="397.05" y1="60.06" x2="397.05" y2="60.66" stroke="#111" stroke-width="0.9"/>
<line x1="392.75" y1="60.06" x2="401.35" y2="60.06" stroke="#111" stroke-width="0.8"/>
<line x1="392.75" y1="60.66" x2="401.35" y2="60.66" stroke="#111" stroke-width="0.8"/>
<line x1="394.35" y1="60.36" x2="399.75" y2="60.36" stroke="#111" stroke-width="0.9"/>
<line x1="397.05" y1="57.66" x2="397.05" y2="63.06" stroke="#111" stroke-width="0.9"/>
<line x1="401.24" y1="59.76" x2="401.24" y2="60.36" stroke="#111" stroke-width="0.9"/>
<line x1="396.94" y1="59.76" x2="405.54" y2="59.76" stroke="#111" stroke-width="0.8"/>
<line x1="396.94" y1="60.36" x2="405.54" y2="60.36" stroke="#111" stroke-width="0.8"/>
<line x1="398.54" y1="60.06" x2="403.94" y2="60.06" stroke="#111" stroke-width="0.9"/>
<line x1="401.24" y1="57.36" x2="401.24" y2="62.76" stroke="#111" stroke-width="0.9"/>
<line x1="403.70" y1="60.50" x2="403.70" y2="61.10" stroke="#111" stroke-width="0.9"/>
<line x1="399.40" y1="60.50" x2="408.00" y2="60.50" stroke="#111" stroke-width="0.8"/>
<line x1="399.40" y1="61.10" x2="408.00" y2="61.10" stroke="#111" stroke-width="0.8"/>
<line x1="401.00" y1="60.80" x2="406.40" y2="60.80" stroke="#111" stroke-width="0.9"/>
<line x1="403.70" y1="58.10" x2="403.70" y2="63.50" stroke="#111" stroke-width="0.9"/>
<line x1="403.70" y1="60.50" x2="403.70" y2="61.10" stroke="#111" stroke-width="0.9"/>
<line x1="399.40" y1="60.50" x2="408.00" y2="60.50" stroke="#111" stroke-width="0.8"/>
<line x1="399.40" y1="61.10" x2="408.00" y2="61.10" stroke="#111" stroke-width="0.8"/>
<line x1="401.00" y1="60.80" x2="406.40" y2="60.80" stroke="#111" stroke-width="0.9"/>
<line x1="403.70" y1="58.10" x2="403.70" y2="63.50" stroke="#111" stroke-width="0.9"/>
<line x1="120.25" y1="210.70" x2="120.25" y2="213.90" stroke="#4d6e68" stroke-width="0.9"/>
<line x1="115.95" y1="210.70" x2="124.55" y2="210.70" stroke="#4d6e68" stroke-width="0.8"/>
<line x1="115.95" y1="213.90" x2="124.55" y2="213.90" stroke="#4d6e68" stroke-width="0.8"/>
<circle cx="120.25" cy="212.30" r="2.2" fill="#4d6e68"/>
<line x1="152.92" y1="188.26" x2="152.92" y2="189.16" stroke="#4d6e68" stroke-width="0.9"/>
<line x1="148.62" y1="188.26" x2="157.22" y2="188.26" stroke="#4d6e68" stroke-width="0.8"/>
<line x1="148.62" y1="189.16" x2="157.22" y2="189.16" stroke="#4d6e68" stroke-width="0.8"/>
<circle cx="152.92" cy="188.71" r="2.2" fill="#4d6e68"/>
<line x1="172.02" y1="172.96" x2="172.02" y2="173.86" stroke="#4d6e68" stroke-width="0.9"/>
<line x1="167.72" y1="172.96" x2="176.32" y2="172.96" stroke="#4d6e68" stroke-width="0.8"/>
<line x1="167.72" y1="173.86" x2="176.32" y2="173.86" stroke="#4d6e68" stroke-width="0.8"/>
<circle cx="172.02" cy="173.41" r="2.2" fill="#4d6e68"/>
<line x1="185.58" y1="163.49" x2="185.58" y2="164.39" stroke="#4d6e68" stroke-width="0.9"/>
<line x1="181.28" y1="163.49" x2="189.88" y2="163.49" stroke="#4d6e68" stroke-width="0.8"/>
<line x1="181.28" y1="164.39" x2="189.88" y2="164.39" stroke="#4d6e68" stroke-width="0.8"/>
<circle cx="185.58" cy="163.94" r="2.2" fill="#4d6e68"/>
<line x1="250.46" y1="119.86" x2="250.46" y2="120.46" stroke="#4d6e68" stroke-width="0.9"/>
<line x1="246.16" y1="119.86" x2="254.76" y2="119.86" stroke="#4d6e68" stroke-width="0.8"/>
<line x1="246.16" y1="120.46" x2="254.76" y2="120.46" stroke="#4d6e68" stroke-width="0.8"/>
<circle cx="250.46" cy="120.16" r="2.2" fill="#4d6e68"/>
<line x1="287.92" y1="97.19" x2="287.92" y2="97.79" stroke="#4d6e68" stroke-width="0.9"/>
<line x1="283.62" y1="97.19" x2="292.22" y2="97.19" stroke="#4d6e68" stroke-width="0.8"/>
<line x1="283.62" y1="97.79" x2="292.22" y2="97.79" stroke="#4d6e68" stroke-width="0.8"/>
<circle cx="287.92" cy="97.49" r="2.2" fill="#4d6e68"/>
<line x1="313.97" y1="83.43" x2="313.97" y2="84.03" stroke="#4d6e68" stroke-width="0.9"/>
<line x1="309.67" y1="83.43" x2="318.27" y2="83.43" stroke="#4d6e68" stroke-width="0.8"/>
<line x1="309.67" y1="84.03" x2="318.27" y2="84.03" stroke="#4d6e68" stroke-width="0.8"/>
<circle cx="313.97" cy="83.73" r="2.2" fill="#4d6e68"/>
<line x1="333.62" y1="75.40" x2="333.62" y2="76.00" stroke="#4d6e68" stroke-width="0.9"/>
<line x1="329.32" y1="75.40" x2="337.92" y2="75.40" stroke="#4d6e68" stroke-width="0.8"/>
<line x1="329.32" y1="76.00" x2="337.92" y2="76.00" stroke="#4d6e68" stroke-width="0.8"/>
<circle cx="333.62" cy="75.70" r="2.2" fill="#4d6e68"/>
<line x1="349.11" y1="70.85" x2="349.11" y2="71.45" stroke="#4d6e68" stroke-width="0.9"/>
<line x1="344.81" y1="70.85" x2="353.41" y2="70.85" stroke="#4d6e68" stroke-width="0.8"/>
<line x1="344.81" y1="71.45" x2="353.41" y2="71.45" stroke="#4d6e68" stroke-width="0.8"/>
<circle cx="349.11" cy="71.15" r="2.2" fill="#4d6e68"/>
<line x1="361.62" y1="65.04" x2="361.62" y2="65.64" stroke="#4d6e68" stroke-width="0.9"/>
<line x1="357.32" y1="65.04" x2="365.92" y2="65.04" stroke="#4d6e68" stroke-width="0.8"/>
<line x1="357.32" y1="65.64" x2="365.92" y2="65.64" stroke="#4d6e68" stroke-width="0.8"/>
<circle cx="361.62" cy="65.34" r="2.2" fill="#4d6e68"/>
<line x1="371.84" y1="63.55" x2="371.84" y2="64.15" stroke="#4d6e68" stroke-width="0.9"/>
<line x1="367.54" y1="63.55" x2="376.14" y2="63.55" stroke="#4d6e68" stroke-width="0.8"/>
<line x1="367.54" y1="64.15" x2="376.14" y2="64.15" stroke="#4d6e68" stroke-width="0.8"/>
<circle cx="371.84" cy="63.85" r="2.2" fill="#4d6e68"/>
<line x1="380.24" y1="62.43" x2="380.24" y2="63.03" stroke="#4d6e68" stroke-width="0.9"/>
<line x1="375.94" y1="62.43" x2="384.54" y2="62.43" stroke="#4d6e68" stroke-width="0.8"/>
<line x1="375.94" y1="63.03" x2="384.54" y2="63.03" stroke="#4d6e68" stroke-width="0.8"/>
<circle cx="380.24" cy="62.73" r="2.2" fill="#4d6e68"/>
<line x1="387.11" y1="61.02" x2="387.11" y2="61.62" stroke="#4d6e68" stroke-width="0.9"/>
<line x1="382.81" y1="61.02" x2="391.41" y2="61.02" stroke="#4d6e68" stroke-width="0.8"/>
<line x1="382.81" y1="61.62" x2="391.41" y2="61.62" stroke="#4d6e68" stroke-width="0.8"/>
<circle cx="387.11" cy="61.32" r="2.2" fill="#4d6e68"/>
<line x1="392.67" y1="60.45" x2="392.67" y2="61.05" stroke="#4d6e68" stroke-width="0.9"/>
<line x1="388.37" y1="60.45" x2="396.97" y2="60.45" stroke="#4d6e68" stroke-width="0.8"/>
<line x1="388.37" y1="61.05" x2="396.97" y2="61.05" stroke="#4d6e68" stroke-width="0.8"/>
<circle cx="392.67" cy="60.75" r="2.2" fill="#4d6e68"/>
<line x1="397.05" y1="60.06" x2="397.05" y2="60.66" stroke="#4d6e68" stroke-width="0.9"/>
<line x1="392.75" y1="60.06" x2="401.35" y2="60.06" stroke="#4d6e68" stroke-width="0.8"/>
<line x1="392.75" y1="60.66" x2="401.35" y2="60.66" stroke="#4d6e68" stroke-width="0.8"/>
<circle cx="397.05" cy="60.36" r="2.2" fill="#4d6e68"/>
<line x1="400.36" y1="59.76" x2="400.36" y2="60.36" stroke="#4d6e68" stroke-width="0.9"/>
<line x1="396.06" y1="59.76" x2="404.66" y2="59.76" stroke="#4d6e68" stroke-width="0.8"/>
<line x1="396.06" y1="60.36" x2="404.66" y2="60.36" stroke="#4d6e68" stroke-width="0.8"/>
<circle cx="400.36" cy="60.06" r="2.2" fill="#4d6e68"/>
<line x1="361.70" y1="201.40" x2="400.10" y2="201.40" stroke="#ff3b3b" stroke-width="0.9"/>
<line x1="361.70" y1="197.10" x2="361.70" y2="205.70" stroke="#ff3b3b" stroke-width="0.8"/>
<line x1="400.10" y1="197.10" x2="400.10" y2="205.70" stroke="#ff3b3b" stroke-width="0.8"/>
<rect x="379.10" y="199.60" width="3.6" height="3.6" fill="none" stroke="#ff3b3b" stroke-width="0.9"/>
<line x1="361.70" y1="216.50" x2="400.10" y2="216.50" stroke="#3d3da6" stroke-width="0.9" stroke-dasharray="4.7 2.1" stroke-dashoffset="0.4"/>
<line x1="361.70" y1="212.20" x2="361.70" y2="220.80" stroke="#3d3da6" stroke-width="0.8"/>
<line x1="400.10" y1="212.20" x2="400.10" y2="220.80" stroke="#3d3da6" stroke-width="0.8"/>
<circle cx="380.90" cy="216.50" r="2.1" fill="none" stroke="#3d3da6" stroke-width="0.9"/>
<line x1="361.70" y1="231.50" x2="400.10" y2="231.50" stroke="#ec0a92" stroke-width="0.9" stroke-dasharray="5.5 2.5 0.7 2.5" stroke-dashoffset="0.5"/>
<line x1="361.70" y1="227.20" x2="361.70" y2="235.80" stroke="#ec0a92" stroke-width="0.8"/>
<line x1="400.10" y1="227.20" x2="400.10" y2="235.80" stroke="#ec0a92" stroke-width="0.8"/>
<path d="M380.90 228.90L383.50 231.50L380.90 234.10L378.30 231.50Z" fill="#ec0a92" stroke="#ec0a92" stroke-width="0.4"/>
<line x1="361.70" y1="246.50" x2="400.10" y2="246.50" stroke="#111" stroke-width="0.9"/>
<line x1="361.70" y1="242.20" x2="361.70" y2="250.80" stroke="#111" stroke-width="0.8"/>
<line x1="400.10" y1="242.20" x2="400.10" y2="250.80" stroke="#111" stroke-width="0.8"/>
<line x1="378.20" y1="246.50" x2="383.60" y2="246.50" stroke="#111" stroke-width="0.9"/>
<line x1="380.90" y1="243.80" x2="380.90" y2="249.20" stroke="#111" stroke-width="0.9"/>
<line x1="361.70" y1="261.50" x2="400.10" y2="261.50" stroke="#4d6e68" stroke-width="0.9" stroke-dasharray="3.4 1.67"/>
<line x1="361.70" y1="257.20" x2="361.70" y2="265.80" stroke="#4d6e68" stroke-width="0.8" stroke-dasharray="3.4 1.67"/>
<line x1="400.10" y1="257.20" x2="400.10" y2="265.80" stroke="#4d6e68" stroke-width="0.8" stroke-dasharray="3.4 1.67"/>
<circle cx="380.90" cy="261.50" r="2.2" fill="#4d6e68"/>
<text x="49.50" y="25.11" font-size="14.4" text-anchor="end" fill="#1e1e1e" textLength="15.48" lengthAdjust="spacingAndGlyphs">10</text>
<text x="49.50" y="110.34" font-size="14.4" text-anchor="end" fill="#1e1e1e" textLength="7.74" lengthAdjust="spacingAndGlyphs">1</text>
<text x="49.50" y="195.57" font-size="14.4" text-anchor="end" fill="#1e1e1e" textLength="19.35" lengthAdjust="spacingAndGlyphs">0.1</text>
<text x="49.50" y="280.80" font-size="14.4" text-anchor="end" fill="#1e1e1e" textLength="27.09" lengthAdjust="spacingAndGlyphs">0.01</text>
<text x="383.56" y="295.90" font-size="14.4" text-anchor="middle" fill="#1e1e1e" textLength="15.48" lengthAdjust="spacingAndGlyphs">10</text>
<text x="275.94" y="295.90" font-size="14.4" text-anchor="middle" fill="#1e1e1e" textLength="7.74" lengthAdjust="spacingAndGlyphs">1</text>
<text x="167.42" y="295.90" font-size="14.4" text-anchor="middle" fill="#1e1e1e" textLength="19.35" lengthAdjust="spacingAndGlyphs">0.1</text>
<text x="58.90" y="295.90" font-size="14.4" text-anchor="middle" fill="#1e1e1e" textLength="27.09" lengthAdjust="spacingAndGlyphs">0.01</text>
<text x="271.4" y="205.3" font-size="12.4" fill="#1e1e1e" textLength="27.7" lengthAdjust="spacingAndGlyphs" >SLG:</text>
<text x="304.6" y="205.3" font-size="12.4" fill="#1e1e1e" textLength="7.4" lengthAdjust="spacingAndGlyphs" font-style="italic">L</text>
<text x="312.2" y="205.3" font-size="12.4" fill="#1e1e1e" textLength="5.2" lengthAdjust="spacingAndGlyphs" >/</text>
<text x="317.7" y="205.3" font-size="12.4" fill="#1e1e1e" textLength="6.2" lengthAdjust="spacingAndGlyphs" font-style="italic">a</text>
<text x="330.8" y="205.3" font-size="12.4" fill="#1e1e1e" textLength="7.6" lengthAdjust="spacingAndGlyphs" >=</text>
<text x="342.0" y="205.3" font-size="12.4" fill="#1e1e1e" textLength="11.6" lengthAdjust="spacingAndGlyphs" >24</text>
<text x="267.4" y="250.2" font-size="12.4" fill="#1e1e1e" textLength="31.7" lengthAdjust="spacingAndGlyphs" >MLG:</text>
<text x="304.6" y="250.2" font-size="12.4" fill="#1e1e1e" textLength="7.4" lengthAdjust="spacingAndGlyphs" font-style="italic">L</text>
<text x="312.2" y="250.2" font-size="12.4" fill="#1e1e1e" textLength="5.2" lengthAdjust="spacingAndGlyphs" >/</text>
<text x="317.7" y="250.2" font-size="12.4" fill="#1e1e1e" textLength="6.2" lengthAdjust="spacingAndGlyphs" font-style="italic">a</text>
<text x="330.8" y="250.2" font-size="12.4" fill="#1e1e1e" textLength="7.6" lengthAdjust="spacingAndGlyphs" >=</text>
<text x="342.0" y="250.2" font-size="12.4" fill="#1e1e1e" textLength="11.6" lengthAdjust="spacingAndGlyphs" >24</text>
<text x="342.0" y="220.3" font-size="12.4" fill="#1e1e1e" textLength="11.6" lengthAdjust="spacingAndGlyphs" >32</text>
<text x="342.0" y="235.3" font-size="12.4" fill="#1e1e1e" textLength="11.6" lengthAdjust="spacingAndGlyphs" >56</text>
<text x="342.0" y="265.2" font-size="12.4" fill="#1e1e1e" textLength="11.6" lengthAdjust="spacingAndGlyphs" >32</text>
<text transform="translate(221.51,317.75) scale(0.8140,0.7708)" font-size="20.0" font-style="italic" fill="#1e1e1e">a</text>
<text transform="translate(229.33,312.40) scale(0.6375,0.4924)" font-size="20.0" font-style="normal" fill="#1e1e1e">2</text>
<text transform="translate(236.09,317.55) scale(0.7273,0.7500)" font-size="20.0" font-style="italic" fill="#1e1e1e">q</text>
<text transform="translate(243.23,312.40) scale(0.6375,0.4924)" font-size="20.0" font-style="normal" fill="#1e1e1e">2</text>
<text transform="translate(371.14,44.55) scale(0.9412,0.7708)" font-size="20.0" font-style="italic" fill="#1e1e1e">α</text>
<text transform="translate(381.46,38.80) scale(0.5976,0.5104)" font-size="20.0" font-style="normal" fill="#1e1e1e">max</text>
<text transform="translate(380.64,48.10) scale(0.6049,0.5104)" font-size="20.0" font-style="italic" fill="#1e1e1e">c</text>
<text transform="translate(16.05,155.78) rotate(-90) scale(1.1373,0.9948)" font-size="20.0" font-style="italic" fill="#1e1e1e">α</text>
<text transform="translate(18.86,142.11) rotate(-90) scale(0.7101,0.7188)" font-size="20.0" font-style="italic" fill="#1e1e1e">s</text>
</svg>
</body></html>
